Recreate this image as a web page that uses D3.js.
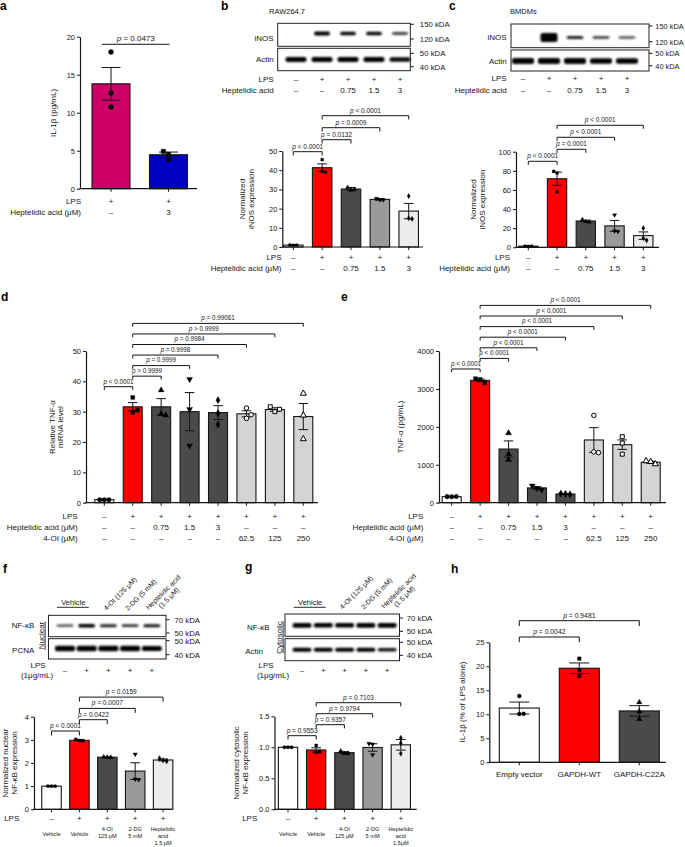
<!DOCTYPE html>
<html>
<head>
<meta charset="utf-8">
<script src="https://cdn.jsdelivr.net/npm/d3@7"></script>
<style>
  body { margin: 0; background: #fff; }
  svg { display: block; }
</style>
</head>
<body>
<div id="fig"></div>
<script>
// ---------- data ----------
// a: IL-1b
const aMeans = [13.8, 4.47];
const aSem = [2.15, 0.35];
const aPoints = [[18.0, 12.6, 10.75], [4.9, 4.5, 3.85]];
const aLps = ["+", "+"];
const aHept = ["–", "3"];
const aPvals = [[0, 1, "=", "0.0473"]];

// b: RAW264.7 iNOS
const blotLps = ["–", "+", "+", "+", "+"];
const blotHept = ["–", "–", "0.75", "1.5", "3"];
const bInos = [0, 0.9, 0.85, 0.85, 0.65];
const bActin = [0.95, 0.95, 0.9, 0.9, 0.85];
const bMeans = [1.0, 41.3, 30.2, 24.8, 18.7];
const bSem = [0.2, 2.0, 0.8, 0.4, 4.0];
const bPoints = [[1.1, 0.9, 1.0], [45.5, 39.3, 39.0], [31, 29.6, 30], [25.3, 24.6, 24.5], [26.5, 15, 14.6]];
const bPvals = [[0, 1, "<", "0.0001"], [1, 2, "=", "0.0132"], [1, 3, "=", "0.0009"], [1, 4, "<", "0.0001"]];

// c: BMDMs iNOS
const cInos = [0, 2.2, 0.75, 0.6, 0.5];
const cActin = [1, 1, 1, 0.95, 0.95];
const cMeans = [1.2, 71.7, 27.5, 22.4, 12.2];
const cSem = [0.3, 6.9, 0.8, 5.7, 3.9];
const cPoints = [[1.3, 1.0, 1.2], [79.5, 77.7, 58], [29, 27, 26.5], [33.8, 17, 16.5], [20, 9.5, 7.2]];
const cPvals = [[0, 1, "<", "0.0001"], [1, 2, "=", "0.0001"], [1, 3, "<", "0.0001"], [1, 4, "<", "0.0001"]];

// d/e: TNF-a
const deLps = ["–", "+", "+", "+", "+", "+", "+", "+"];
const deHept = ["–", "–", "0.75", "1.5", "3", "–", "–", "–"];
const de4oi = ["–", "–", "–", "–", "–", "62.5", "125", "250"];
const dMeans = [1.0, 31.6, 31.6, 30.0, 29.7, 29.3, 30.7, 28.4];
const dSem = [0.2, 1.4, 2.7, 6.3, 2.3, 1.0, 0.6, 4.3];
const dPoints = [[1, 1, 1], [34.7, 29.8, 30.5], [37.1, 29.2, 28.8], [40.7, 30.8, 18.8], [33.8, 29.5, 25.8], [31.2, 27.8, 29.0], [31.6, 30.0, 30.8], [36, 28.8, 21]];
const dPvals = [[0, 1, "<", "0.0001"], [1, 2, ">", "0.9999"], [1, 3, "=", "0.9999"], [1, 4, "=", "0.9998"], [1, 5, "=", "0.9984"], [1, 6, ">", "0.9999"], [1, 7, "=", "0.99061"]];
const eMeans = [160, 3226, 1415, 390, 229, 1654, 1530, 1067];
const eSem = [5, 35, 214, 30, 8, 325, 125, 25];
const ePoints = [[160, 158, 162], [3270, 3250, 3160], [1835, 1280, 1130], [450, 380, 340], [240, 230, 218], [2303, 1340, 1320], [1740, 1574, 1280], [1100, 1080, 1020]];
const ePvals = [[0, 1, "<", "0.0001"], [1, 2, "<", "0.0001"], [1, 3, "<", "0.0001"], [1, 4, "<", "0.0001"], [1, 5, "<", "0.0001"], [1, 6, "<", "0.0001"], [1, 7, "<", "0.0001"]];

// f/g: NF-kB
const fgTreat = ["4-OI (125 μM)", "2-DG (5 mM)"];
const fNfkb = [0.55, 0.95, 0.75, 0.7, 0.8];
const fPcna = [1, 1, 1, 1, 0.9];
const fMeans = [1.0, 2.98, 2.25, 1.65, 2.13];
const fSem = [0.005, 0.02, 0.01, 0.36, 0.04];
const fPoints = [[1, 1, 1], [3.02, 2.97, 2.96], [2.26, 2.25, 2.24], [2.38, 1.3, 1.28], [2.2, 2.12, 2.08]];
const fPvals = [[0, 1, "<", "0.0001"], [1, 2, "=", "0.0422"], [1, 3, "=", "0.0007"], [1, 4, "=", "0.0159"]];
const fGroups = [["Vehicle"], ["Vehicle"], ["4-OI", "125 μM"], ["2-DG", "5 mM"], ["Heptelidic", "acid", "1.5 μM"]];
const gNfkb = [0.95, 0.9, 0.9, 0.95, 0.95];
const gActin = [0.9, 0.9, 0.9, 0.9, 0.8];
const gMeans = [1.0, 0.957, 0.914, 0.997, 1.04];
const gSem = [0.003, 0.035, 0.015, 0.06, 0.085];
const gPoints = [[1, 1, 1], [1.03, 0.92, 0.93], [0.94, 0.90, 0.90], [1.06, 1.05, 0.88], [1.15, 1.07, 0.90]];
const gPvals = [[0, 1, "=", "0.9553"], [1, 2, "=", "0.9357"], [1, 3, "=", "0.9794"], [1, 4, "=", "0.7103"]];
const gGroups = [["Vehicle"], ["Vehicle"], ["4-OI", "125 μM"], ["2-DG", "5 mM"], ["Heptelidic", "acid", "1.5μM"]];

// h: GAPDH
const hGroups = ["Empty vector", "GAPDH-WT", "GAPDH-C22A"];
const hMeans = [11.3, 19.6, 10.7];
const hSem = [1.25, 1.1, 1.1];
const hPoints = [[13.8, 10.05, 10.1], [21.6, 19.2, 18.0], [12.5, 10.6, 9.0]];
const hPvals = [[0, 1, "=", "0.0042"], [0, 2, "=", "0.9481"]];

// ---------- drawing ----------
const FONT = "'Liberation Sans', Arial, Helvetica, sans-serif";
const INK = "#151515";
const RED = "#ff0000", DARK = "#4a4a4a", MID = "#9a9a9a", LIGHT = "#ececec", LGREY = "#d4d4d4";

const svg = d3.select("#fig").append("svg")
  .attr("width", 685).attr("height", 847)
  .attr("font-family", FONT).attr("fill", INK);
svg.append("rect").attr("width", 685).attr("height", 847).attr("fill", "#fff");

const defs = svg.append("defs");
defs.append("filter").attr("id", "blur").attr("x", "-50%").attr("y", "-100%").attr("width", "200%").attr("height", "300%")
  .append("feGaussianBlur").attr("stdDeviation", 0.8);

function txt(x, y, s, size, anchor, extra) {
  const t = svg.append("text").attr("x", x).attr("y", y).attr("font-size", size)
    .attr("text-anchor", anchor || "start").attr("fill", INK).text(s);
  if (extra) extra(t);
  return t;
}

function panelLetter(x, y, s) {
  txt(x, y, s, 12, "start", t => t.attr("font-weight", "bold").attr("fill", "#000"));
}

const symbols = {
  circle: d3.symbolCircle, square: d3.symbolSquare, triangle: d3.symbolTriangle,
  triangleDown: d3.symbolTriangle, diamond: d3.symbolDiamond,
  circleOpen: d3.symbolCircle, squareOpen: d3.symbolSquare, triangleOpen: d3.symbolTriangle
};

function barChart(o) {
  const n = o.means.length;
  const pad = 1 - o.barW / o.step;
  const y = d3.scaleLinear().domain([0, o.yMax]).range([o.bottom, o.top]);
  const x = d3.scaleBand().domain(d3.range(n))
    .range([o.c0 - o.step / 2, o.c0 + o.step * (n - 0.5)])
    .paddingInner(pad).paddingOuter(pad / 2);
  const cx = i => x(i) + x.bandwidth() / 2;
  const g = svg.append("g");

  g.selectAll("rect.bar").data(o.means).join("rect").attr("class", "bar")
    .attr("x", (d, i) => x(i)).attr("y", d => y(d))
    .attr("width", x.bandwidth()).attr("height", d => y(0) - y(d))
    .attr("fill", (d, i) => o.colors[i]).attr("stroke", INK).attr("stroke-width", 1.1);

  // error bars (mean +/- SEM)
  const cap = x.bandwidth() * 0.25;
  const eb = g.selectAll("g.err").data(o.means).join("g").attr("class", "err")
    .attr("stroke", INK).attr("stroke-width", 1);
  eb.append("line").attr("x1", (d, i) => cx(i)).attr("x2", (d, i) => cx(i))
    .attr("y1", (d, i) => y(d - o.sem[i])).attr("y2", (d, i) => y(d + o.sem[i]));
  eb.append("line").attr("x1", (d, i) => cx(i) - cap).attr("x2", (d, i) => cx(i) + cap)
    .attr("y1", (d, i) => y(d + o.sem[i])).attr("y2", (d, i) => y(d + o.sem[i]));
  eb.append("line").attr("x1", (d, i) => cx(i) - cap).attr("x2", (d, i) => cx(i) + cap)
    .attr("y1", (d, i) => y(d - o.sem[i])).attr("y2", (d, i) => y(d - o.sem[i]));

  // individual points, spread sideways only when they overlap
  o.points.forEach((pts, i) => {
    const shape = o.shapes[i];
    const open = shape.endsWith("Open");
    const rot = shape === "triangleDown" ? 180 : 0;
    const sym = d3.symbol().type(symbols[shape]).size(o.symSize);
    pts.forEach((v, j) => {
      const clash = pts.some((w, k) => k !== j && Math.abs(y(w) - y(v)) < o.symR * 2);
      const dx = clash ? (j - 1) * o.symR * 2.1 : 0;
      g.append("path").attr("d", sym)
        .attr("transform", `translate(${cx(i) + dx},${y(v)}) rotate(${rot})`)
        .attr("fill", open ? "#fff" : "#000").attr("stroke", "#000").attr("stroke-width", open ? 1 : 0.3);
    });
  });

  const ya = g.append("g").attr("transform", `translate(${o.axisX},0)`)
    .call(d3.axisLeft(y).tickValues(o.ticks).tickSize(3).tickSizeOuter(0).tickPadding(2).tickFormat(o.fmt || d3.format("d")));
  ya.attr("font-family", FONT).attr("font-size", o.tickFs || 7.5);
  ya.select(".domain").attr("stroke", INK).attr("stroke-width", 1.2);
  ya.selectAll(".tick line").attr("stroke", INK).attr("stroke-width", 1);
  ya.selectAll(".tick text").attr("fill", INK);

  g.append("line").attr("x1", o.axisX - 0.6).attr("x2", o.xEnd).attr("y1", y(0)).attr("y2", y(0))
    .attr("stroke", INK).attr("stroke-width", 1.2);
  const xa = g.append("g").attr("transform", `translate(0,${y(0)})`)
    .call(d3.axisBottom(x).tickSize(3).tickSizeOuter(0).tickFormat(""));
  xa.select(".domain").remove();
  xa.selectAll(".tick line").attr("stroke", INK).attr("stroke-width", 1);
  return { x, y, cx };
}

function pLabel(t, op, val) {
  t.append("tspan").attr("font-style", "italic").text("p");
  t.append("tspan").text(` ${op} ${val}`);
}

function brackets(ch, pv, base, gap, tick, fs) {
  pv.forEach(([a, b, op, val], k) => {
    const yy = base - gap * k;
    const x1 = ch.cx(a), x2 = ch.cx(b);
    svg.append("path").attr("d", `M${x1},${yy + tick}V${yy}H${x2}V${yy + tick}`)
      .attr("fill", "none").attr("stroke", INK).attr("stroke-width", 1);
    const t = txt((x1 + x2) / 2, yy - 3.2, "", fs, "middle");
    pLabel(t, op, val);
  });
}

function rowLabels(centers, rows, names, ys, labelX, fs) {
  rows.forEach((r, k) => {
    txt(labelX, ys[k], names[k], fs, "end");
    r.forEach((s, i) => txt(centers(i), ys[k], s, fs, "middle"));
  });
}

function yLabel(lines, x, yc, fs, lh) {
  const t = svg.append("text").attr("transform", `translate(${x},${yc}) rotate(-90)`)
    .attr("text-anchor", "middle").attr("font-size", fs).attr("fill", INK);
  lines.forEach((s, i) => t.append("tspan").attr("x", 0).attr("dy", i ? lh : 0).text(s));
}

function blot(o) {
  const lane = d3.scalePoint().domain(d3.range(o.n)).range([o.lane0, o.lane0 + o.laneStep * (o.n - 1)]);
  o.rows.forEach(r => {
    svg.append("rect").attr("x", o.x0).attr("y", r.top).attr("width", o.x1 - o.x0).attr("height", r.bottom - r.top)
      .attr("fill", "#fff").attr("stroke", "#222").attr("stroke-width", 1);
    svg.append("g").attr("filter", "url(#blur)").selectAll("rect").data(r.values).join("rect")
      .attr("x", (d, i) => lane(i) - r.bw / 2)
      .attr("width", r.bw)
      .attr("y", d => r.by - r.bh * Math.max(d, 0.7) / 2)
      .attr("height", d => r.bh * Math.max(d, 0.7))
      .attr("rx", 2)
      .attr("fill", "#000")
      .attr("opacity", d => Math.min(1, d * 1.15));
    if (r.name) txt(r.nameX, r.nameY, r.name, 8, "end");
  });
  o.kda.forEach(([yy, s]) => {
    svg.append("line").attr("x1", o.x1).attr("x2", o.x1 + 3.5).attr("y1", yy).attr("y2", yy)
      .attr("stroke", INK).attr("stroke-width", 1);
    txt(o.x1 + o.kdaGap, yy + 2.8, s, o.kdaFs || 7.8, "start");
  });
  return lane;
}

// ===== a =====
panelLetter(0, 10, "a");
const chA = barChart({ means: aMeans, sem: aSem, points: aPoints, colors: ["#cc0066", "#0000c4"],
  shapes: ["circle", "square"], symSize: 20, symR: 2.4,
  c0: 111, step: 57.5, barW: 38, axisX: 80, xEnd: 197, top: 36.7, bottom: 188.7, yMax: 20, ticks: [0, 5, 10, 15, 20] });
svg.append("line").attr("x1", chA.cx(0) - 9).attr("x2", chA.cx(1) + 1).attr("y1", 44.3).attr("y2", 44.3)
  .attr("stroke", INK).attr("stroke-width", 1);
pLabel(txt((chA.cx(0) - 9 + chA.cx(1) + 1) / 2, 41, "", 8, "middle"), aPvals[0][2], aPvals[0][3]);
yLabel(["IL-1β (pg/mL)"], 56, 113, 8, 0);
rowLabels(chA.cx, [aLps, aHept], ["LPS", "Heptelidic acid (μM)"], [203.5, 214.5], 81, 8);

// ===== b =====
panelLetter(221, 10, "b");
txt(269, 14, "RAW264.7", 7.5, "start");
const laneB = blot({ n: 5, x0: 277.7, x1: 410.3, lane0: 296, laneStep: 26, kdaGap: 9.5,
  rows: [
    { top: 23.3, bottom: 46.3, values: bInos, by: 33.5, bw: 16, bh: 4.2, name: "iNOS", nameX: 273.7, nameY: 40.5 },
    { top: 48.3, bottom: 70.7, values: bActin, by: 59.5, bw: 21, bh: 5.5, name: "Actin", nameX: 273.7, nameY: 62 }
  ],
  kda: [[24.3, "150 kDA"], [39, "120 kDA"], [53.3, "50 kDA"], [66.7, "40 kDA"]] });
rowLabels(laneB, [blotLps, blotHept], ["LPS", "Heptelidic acid"], [81.5, 93], 273.7, 8);
const chB = barChart({ means: bMeans, sem: bSem, points: bPoints, colors: ["#fff", RED, DARK, MID, LIGHT],
  shapes: ["circle", "square", "triangle", "triangleDown", "diamond"], symSize: 8, symR: 1.6,
  c0: 293.3, step: 28.85, barW: 19.5, axisX: 282.3, xEnd: 423, top: 151, bottom: 247, yMax: 50, ticks: d3.range(0, 51, 10) });
brackets(chB, bPvals, 151.7, 12, 3.8, 6.5);
yLabel(["Normalized", "iNOS expression"], 245, 199, 8, 8.5);
rowLabels(chB.cx, [blotLps, blotHept], ["LPS", "Heptelidic acid (μM)"], [260, 271], 281.5, 8);

// ===== c =====
panelLetter(449, 10, "c");
txt(510, 14, "BMDMs", 7.5, "start");
const laneC = blot({ n: 5, x0: 511, x1: 649, lane0: 523, laneStep: 26, kdaGap: 6.3, kdaFs: 7.4,
  rows: [
    { top: 24, bottom: 47.7, values: cInos, by: 37.5, bw: 17, bh: 4.2, name: "iNOS", nameX: 506.7, nameY: 40 },
    { top: 50, bottom: 71, values: cActin, by: 61, bw: 22, bh: 6, name: "Actin", nameX: 506.7, nameY: 63.5 }
  ],
  kda: [[26, "150 kDA"], [41.7, "120 kDA"], [53.3, "50 kDA"], [65.7, "40 kDA"]] });
rowLabels(laneC, [blotLps, blotHept], ["LPS", "Heptelidic acid"], [81, 93], 506.7, 8);
const chC = barChart({ means: cMeans, sem: cSem, points: cPoints, colors: ["#fff", RED, DARK, MID, LIGHT],
  shapes: ["circle", "square", "triangle", "triangleDown", "diamond"], symSize: 8, symR: 1.6,
  c0: 528.3, step: 28.75, barW: 19.3, axisX: 516, xEnd: 659, top: 151.7, bottom: 247.3, yMax: 100, ticks: d3.range(0, 101, 20) });
brackets(chC, cPvals, 161.3, 12, 3.5, 6.5);
yLabel(["Normalized", "iNOS expression"], 476, 199.5, 8, 8.5);
rowLabels(chC.cx, [blotLps, blotHept], ["LPS", "Heptelidic acid (μM)"], [260, 271], 510, 8);

// ===== d =====
panelLetter(1, 301, "d");
const deShapes = ["circle", "square", "triangle", "triangleDown", "diamond", "circleOpen", "squareOpen", "triangleOpen"];
const deColors = ["#fff", RED, DARK, DARK, DARK, LGREY, LGREY, LGREY];
const chD = barChart({ means: dMeans, sem: dSem, points: dPoints, colors: deColors, shapes: deShapes, symSize: 16, symR: 2.2,
  c0: 104.3, step: 28.43, barW: 19, axisX: 86, xEnd: 318, top: 351, bottom: 502.7, yMax: 50, ticks: d3.range(0, 51, 10) });
brackets(chD, dPvals, 386.7, 10.55, 3.3, 6.3);
yLabel(["Relative TNF-α", "mRNA level"], 55, 427, 8, 8.3);
rowLabels(chD.cx, [deLps, deHept, de4oi], ["LPS", "Heptelidic acid (μM)", "4-OI (μM)"], [518.5, 529.5, 541], 77.7, 8);

// ===== e =====
panelLetter(341, 301, "e");
const chE = barChart({ means: eMeans, sem: eSem, points: ePoints, colors: deColors, shapes: deShapes, symSize: 16, symR: 2.2,
  c0: 451.7, step: 28.43, barW: 19, axisX: 439, xEnd: 666, top: 351, bottom: 502.7, yMax: 4000, ticks: d3.range(0, 4001, 1000) });
brackets(chE, ePvals, 369, 10.6, 3.3, 6.3);
yLabel(["TNF-α (pg/mL)"], 403, 427, 8, 0);
rowLabels(chE.cx, [deLps, deHept, de4oi], ["LPS", "Heptelidic acid (μM)", "4-OI (μM)"], [518.5, 529.5, 541], 423.3, 8);

// ===== f / g shared pieces =====
function blotHeader(lane, rotY, vehY) {
  const mid = (lane(0) + lane(1)) / 2;
  txt(mid - 2.5, vehY, "Vehicle", 7.5, "middle");
  svg.append("line").attr("x1", mid - 19).attr("x2", mid + 13).attr("y1", vehY + 2.3).attr("y2", vehY + 2.3)
    .attr("stroke", INK).attr("stroke-width", 0.9);
  fgTreat.forEach((s, i) => {
    svg.append("text").attr("transform", `translate(${lane(i + 2) - 2},${rotY}) rotate(-45)`)
      .attr("font-size", 7).attr("fill", INK).text(s);
  });
  const t = svg.append("text").attr("transform", `translate(${lane(4) - 3},${rotY - 1}) rotate(-45)`)
    .attr("font-size", 7).attr("fill", INK);
  t.append("tspan").attr("x", 0).text("Heptelidic acid");
  t.append("tspan").attr("x", 9.6).attr("dy", 8).text("(1.5 μM)");
}
function sideTag(s, x, yc, y0, y1) {
  svg.append("text").attr("transform", `translate(${x},${yc}) rotate(-90)`)
    .attr("text-anchor", "middle").attr("font-size", 8).attr("fill", INK).text(s);
  svg.append("line").attr("x1", x + 1.6).attr("x2", x + 1.6).attr("y1", y0).attr("y2", y1)
    .attr("stroke", INK).attr("stroke-width", 0.9);
}
function groupLabels(ch, groups) {
  groups.forEach((ls, i) => {
    ls.forEach((s, k) => {
      const yy = ls.length === 1 ? 835.5 : 830.5 + 7.3 * k;
      txt(ch.cx(i), yy, s, 5.6, "middle");
    });
  });
}
const fgShapes = ["circle", "square", "triangle", "triangleDown", "diamond"];
const fgColors = ["#fff", RED, DARK, MID, LIGHT];

// ===== f =====
panelLetter(3, 573, "f");
const laneF = blot({ n: 5, x0: 48.5, x1: 166, lane0: 65, laneStep: 21.7, kdaGap: 8.5,
  rows: [
    { top: 615.3, bottom: 636.7, values: fNfkb, by: 625.7, bw: 17, bh: 3.8, name: "NF-κB", nameX: 34.3, nameY: 628 },
    { top: 638.7, bottom: 659, values: fPcna, by: 648.5, bw: 20, bh: 5.5, name: "PCNA", nameX: 34.3, nameY: 653 }
  ],
  kda: [[619.7, "70 kDA"], [633, "50 kDA"], [640.7, "50 kDA"], [654.7, "40 kDA"]] });
blotHeader(laneF, 611, 605);
sideTag("Nuclear", 43.5, 635.5, 621.7, 650);
txt(38, 667.5, "LPS", 8, "middle");
txt(37, 677.5, "(1μg/mL)", 8, "middle");
blotLps.forEach((s, i) => txt(laneF(i), 673, s, 8, "middle"));
const chF = barChart({ means: fMeans, sem: fSem, points: fPoints, colors: fgColors, shapes: fgShapes, symSize: 9, symR: 1.7,
  c0: 51.5, step: 27.9, barW: 19.5, axisX: 34, xEnd: 172, top: 716.7, bottom: 809.3, yMax: 4, ticks: [0, 1, 2, 3, 4] });
brackets(chF, fPvals, 731, 11.3, 4.5, 6.5);
yLabel(["Normalized nuclear", "NF-κB expression"], 8, 763, 8, 9);
txt(19.3, 821, "LPS", 8, "end");
blotLps.forEach((s, i) => txt(chF.cx(i), 821, s, 8, "middle"));
groupLabels(chF, fGroups);

// ===== g =====
panelLetter(245, 571, "g");
const laneG = blot({ n: 5, x0: 285, x1: 399.5, lane0: 302, laneStep: 21.3, kdaGap: 7.2,
  rows: [
    { top: 614, bottom: 636.3, values: gNfkb, by: 625.3, bw: 19, bh: 5, name: "NF-κB", nameX: 269.7, nameY: 629.5 },
    { top: 638.7, bottom: 660.7, values: gActin, by: 649.7, bw: 19, bh: 4.5, name: "Actin", nameX: 263, nameY: 653.5 }
  ],
  kda: [[618, "70 kDA"], [631.3, "50 kDA"], [642.3, "50 kDA"], [655.3, "40 kDA"]] });
blotHeader(laneG, 609.7, 605);
sideTag("Cytosolic", 281.5, 637.5, 621, 653);
txt(266, 667.5, "LPS", 8, "middle");
txt(273, 677.5, "(1μg/mL)", 8, "middle");
blotLps.forEach((s, i) => txt(laneG(i), 673, s, 8, "middle"));
const chG = barChart({ means: gMeans, sem: gSem, points: gPoints, colors: fgColors, shapes: fgShapes, symSize: 9, symR: 1.7,
  c0: 288, step: 28.2, barW: 19.3, axisX: 274.5, xEnd: 416.7, top: 716.3, bottom: 809.3, yMax: 1.5, ticks: [0, 0.5, 1, 1.5], fmt: d3.format(".1f") });
brackets(chG, gPvals, 735.7, 11, 3.7, 6.5);
yLabel(["Normalized cytosolic", "NF-κB expression"], 239, 763, 8, 9);
txt(257.3, 821, "LPS", 8, "end");
blotLps.forEach((s, i) => txt(chG.cx(i), 821, s, 8, "middle"));
groupLabels(chG, gGroups);

// ===== h =====
panelLetter(451, 573, "h");
const chH = barChart({ means: hMeans, sem: hSem, points: hPoints, colors: ["#fff", RED, DARK],
  shapes: ["circle", "square", "triangle"], symSize: 13, symR: 2,
  c0: 519.3, step: 60, barW: 40, axisX: 489.3, xEnd: 665.7, top: 642.3, bottom: 762.3, yMax: 25, ticks: d3.range(0, 26, 5) });
brackets(chH, hPvals, 637, 16.3, 5.3, 6.8);
yLabel(["IL-1β (% of LPS alone)"], 464.5, 702, 8, 0);
hGroups.forEach((s, i) => txt(chH.cx(i), 777, s, 8, "middle"));
</script>
</body>
</html>
